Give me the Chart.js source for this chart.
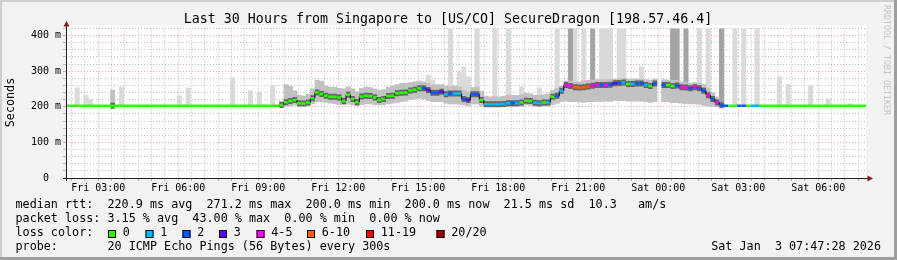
<!DOCTYPE html>
<html>
<head>
<meta charset="utf-8">
<script src="https://cdn.jsdelivr.net/npm/chart.js@4.4.1/dist/chart.umd.min.js"></script>
<style>
html, body { margin: 0; padding: 0; background: #f2f2f2; }
canvas { display: block; }
</style>
</head>
<body>
<canvas id="chart" width="897" height="260"></canvas>
<script>
// 30 hours, one value per 10 minutes, starting Fri 01:47:28
const startHour = 1 + 47 / 60 + 28 / 3600;
const endHour = startHour + 30;
const stepHours = 10 / 60;

// median rtt in ms
const median = [
  203,203,203,203,203,203,203,203,203,203,
  203,203,203,203,203,203,203,203,203,203,
  203,203,203,203,203,203,203,203,203,203,
  203,203,203,203,203,203,203,203,203,203,
  203,203,203,203,203,203,203,203,205,213,
  216,219,210,209,212,224,240,236,231,228,
  228,226,216,234,222,213,229,231,230,226,
  219,222,230,231,238,239,240,246,248,252,
  252,247,239,239,242,235,237,237,237,222,
  219,235,235,219,207,207,207,207,208,210,
  210,210,212,217,216,211,210,212,212,228,
  231,245,261,258,255,254,255,257,259,261,
  261,261,262,266,267,268,264,264,265,265,
  261,258,265,null,261,261,258,260,255,254,
  252,255,252,245,232,222,212,204,203,203,
  203,203,203,203,203,203,203,203,203,203,
  203,203,203,203,203,203,203,203,203,203,
  203,203,203,203,203,203,203,203,203,203
];

// loss class per step (index into lossColors)
const loss = [
  0,0,0,0,0,0,0,0,0,0, 0,0,0,0,0,0,0,0,0,0,
  0,0,0,0,0,0,0,0,0,0, 0,0,0,0,0,0,0,0,0,0,
  0,0,0,0,0,0,0,0,0,0, 0,0,0,0,0,0,0,0,0,0,
  0,0,0,0,0,0,0,0,0,0, 0,0,0,0,0,0,0,0,0,0,
  2,3,2,2,3,1,2,1,1,2,
  3,2,2,0,1,1,1,1,1,1,
  2,1,0,0,0,1,1,0,1,0,
  2,1,4,4,5,5,5,5,4,4,
  2,4,2,3,2,1,0,1,2,2,
  1,0,2,0,2,0,0,2,4,4,
  2,4,2,2,4,2,4,2,2,0,
  0,2,2,0,1,1,0,0,0,0,
  0,0,0,0,0,0,0,0,0,0, 0,0,0,0,0,0,0,0,0,0
];

// smoke: lower and upper edge of the dense ping spread (ms)
const smokeLow = [
  null,null,null,null,null,null,null,null,null,null,
  203,null,null,null,null,null,null,null,null,null,
  null,null,null,null,null,null,null,null,null,null,
  null,null,null,null,null,null,null,null,null,null,
  null,null,null,null,null,null,null,null,202,202,
  203,205,202,202,203,208,214,214,212,210,
  208,206,205,207,205,203,206,208,208,206,
  205,205,208,210,212,214,216,220,222,224,
  222,218,214,214,214,210,208,208,207,205,
  203,208,208,202,200,200,200,200,200,200,
  201,202,202,205,204,202,201,202,202,206,
  210,214,216,215,214,213,213,214,215,215,
  215,216,216,218,218,218,216,216,216,216,
  214,212,214,null,214,214,212,212,210,210,
  208,208,207,204,202,201,200,201,null,null,
  null,null,null,null,null,null,null,null,null,null,
  null,null,null,null,null,null,null,null,null,null,
  null,null,null,null,null,null,null,null,null,null
];
const smokeHigh = [
  null,null,null,null,null,null,null,null,null,null,
  247,null,null,null,null,null,null,null,null,null,
  null,null,null,null,null,null,null,null,null,null,
  null,null,null,null,null,null,null,null,null,null,
  null,null,null,null,null,null,null,null,215,262,
  258,245,232,230,235,250,275,272,258,255,
  255,252,250,256,250,242,252,255,254,250,
  246,248,255,258,262,265,266,268,270,272,
  270,266,262,262,262,258,256,258,255,246,
  242,254,256,244,230,228,228,228,230,232,
  232,232,234,238,236,232,232,234,236,246,
  252,258,272,272,270,270,272,274,275,276,
  276,276,277,278,279,280,278,278,278,278,
  276,274,278,null,276,275,274,274,270,268,
  266,268,266,262,252,240,228,212,null,null,
  null,null,null,null,null,null,null,null,null,null,
  null,null,null,null,null,null,null,null,null,null,
  null,null,null,null,null,null,null,null,null,null
];

// slowest ping of a step, where it stands out (ms)
const pingMax = [
  null,null,253,null,233,220,null,null,null,null,
  null,null,255,null,null,null,null,null,null,null,
  null,null,null,null,null,231,null,253,null,null,
  null,null,null,null,null,null,null,281,null,null,
  null,245,null,242,null,null,260,null,null,null,
  null,null,null,null,null,null,null,null,null,null,
  null,null,null,null,null,null,null,null,null,null,
  null,null,null,null,null,null,null,null,null,null,
  null,289,275,null,null,null,420,null,298,312,
  284,null,420,null,null,null,420,null,null,420,
  null,null,256,null,null,null,253,null,null,null,
  420,null,null,null,420,null,420,null,null,null,
  420,420,420,null,420,420,null,null,null,312,
  null,null,null,null,null,null,null,null,null,null,
  null,null,420,null,420,null,null,null,null,null,
  420,null,420,null,null,420,null,null,null,null,
  284,null,263,null,null,null,null,259,null,null,
  null,222,null,null,null,null,208,null,null,null
];
// steps where several pings were that slow
const pingUpper = [
  null,null,null,null,null,null,null,null,null,null,
  null,null,null,null,null,null,null,null,null,null,
  null,null,null,null,null,null,null,null,null,null,
  null,null,null,null,null,null,null,null,null,null,
  null,null,null,null,null,null,null,null,null,null,
  null,null,null,null,null,null,null,null,null,null,
  null,null,null,null,null,null,null,null,null,null,
  null,null,null,null,null,null,null,null,null,null,
  null,null,null,null,null,null,null,null,null,null,
  null,null,null,null,null,null,null,null,null,null,
  null,null,null,null,null,null,null,null,null,null,
  null,null,null,420,null,null,null,null,420,null,
  null,null,null,null,null,null,null,null,null,null,
  null,null,null,null,null,null,420,420,null,420,
  null,null,null,null,null,null,null,420,null,null,
  null,null,null,null,null,null,null,null,null,null,
  null,null,null,null,null,null,null,null,null,null,
  null,null,null,null,null,null,null,null,null,null
];

const lossColors = ['#26ff00', '#00b8ff', '#0059ff', '#5e00ff', '#ff00ff', '#ff5e00', '#ff0000', '#a10000'];
const lossLabels = ['0', '1', '2', '3', '4-5', '6-10', '11-19', '20/20'];

const xTickHours = [3, 6, 9, 12, 15, 18, 21, 24, 27, 30];
const xTickLabels = ['Fri 03:00', 'Fri 06:00', 'Fri 09:00', 'Fri 12:00', 'Fri 15:00',
                     'Fri 18:00', 'Fri 21:00', 'Sat 00:00', 'Sat 03:00', 'Sat 06:00'];
const yTickValues = [0, 100, 200, 300, 400];
const yTickLabels = ['0  ', '100 m', '200 m', '300 m', '400 m'];

const MONO = '"DejaVu Sans Mono", monospace';
const GRID = 'rgba(143,143,143,0.55)';
const MGRID = 'rgba(222,79,79,0.5)';

const centres = median.map((_, i) => startHour + (i + 0.5) * stepHours);

function floating(lo, hi) {
  return centres.map((t, i) => ({ x: t, y: (lo[i] == null || hi[i] == null) ? null : [lo[i], hi[i]] }));
}
const spikeBase = median.map((m, i) => smokeLow[i] != null ? smokeLow[i] : m);

// each step becomes a flat run: start point and end point
const stepPoints = [];
median.forEach((m, i) => {
  stepPoints.push({ x: startHour + i * stepHours, y: m });
  stepPoints.push({ x: startHour + (i + 1) * stepHours, y: m });
});

const xGrid = [];
for (let h = 2; h <= 31.5; h += 0.5) xGrid.push(h);
const yGrid = [];
for (let v = 0; v <= 420; v += 20) yGrid.push(v);

const barStyle = { type: 'bar', grouped: false, barPercentage: 1, categoryPercentage: 1, borderWidth: 0 };

const decor = {
  id: 'decor',
  beforeDraw(chart) {
    const { ctx, chartArea: a } = chart;
    ctx.save();
    ctx.fillStyle = '#f2f2f2';
    ctx.fillRect(0, 0, 897, 260);
    ctx.fillStyle = '#cfcfcf';
    ctx.fillRect(0, 0, 897, 2);
    ctx.fillRect(0, 0, 2, 260);
    ctx.fillStyle = '#9e9e9e';
    ctx.fillRect(0, 257, 897, 3);
    ctx.fillRect(894, 0, 3, 260);
    ctx.fillStyle = '#ffffff';
    ctx.fillRect(a.left, a.top - 3, a.right - a.left, a.bottom - a.top + 3);
    ctx.restore();
  },
  afterDraw(chart) {
    const { ctx, chartArea: a } = chart;
    ctx.save();
    // axes
    ctx.strokeStyle = '#1f1f1f';
    ctx.lineWidth = 1;
    ctx.beginPath();
    ctx.moveTo(a.left + 0.5, a.bottom + 3);
    ctx.lineTo(a.left + 0.5, 24);
    ctx.moveTo(a.left - 3, a.bottom + 0.5);
    ctx.lineTo(a.right + 2, a.bottom + 0.5);
    ctx.stroke();
    ctx.fillStyle = '#801f1f';
    ctx.beginPath();
    ctx.moveTo(a.left + 0.5, 21);
    ctx.lineTo(a.left + 3.5, 26.5);
    ctx.lineTo(a.left - 2.5, 26.5);
    ctx.closePath();
    ctx.fill();
    ctx.beginPath();
    ctx.moveTo(a.right + 7, a.bottom + 0.5);
    ctx.lineTo(a.right + 1.5, a.bottom - 2.5);
    ctx.lineTo(a.right + 1.5, a.bottom + 3.5);
    ctx.closePath();
    ctx.fill();

    // title
    ctx.fillStyle = '#000';
    ctx.textBaseline = 'middle';
    ctx.textAlign = 'center';
    ctx.font = '13.3px ' + MONO;
    ctx.fillText('Last 30 Hours from Singapore to [US/CO] SecureDragon [198.57.46.4]', 448, 19.5);

    // vertical axis title
    ctx.font = '11.75px ' + MONO;
    ctx.save();
    ctx.translate(10.5, 102.5);
    ctx.rotate(-Math.PI / 2);
    ctx.fillText('Seconds', 0, 0);
    ctx.restore();

    // watermark
    ctx.save();
    ctx.translate(886.5, 5);
    ctx.rotate(Math.PI / 2);
    ctx.textAlign = 'left';
    ctx.fillStyle = '#c4c4c4';
    ctx.font = '8.3px ' + MONO;
    ctx.fillText('RRDTOOL / TOBI OETIKER', 0, 0);
    ctx.restore();

    // legend
    ctx.textAlign = 'left';
    ctx.font = '11.75px ' + MONO;
    ctx.fillText('median rtt:  220.9 ms avg  271.2 ms max  200.0 ms min  200.0 ms now  21.5 ms sd  10.3   am/s', 15.5, 204.5);
    ctx.fillText('packet loss: 3.15 % avg  43.00 % max  0.00 % min  0.00 % now', 15.5, 218.5);
    ctx.fillText('loss color:', 15.5, 232.5);
    ctx.fillText('probe:       20 ICMP Echo Pings (56 Bytes) every 300s', 15.5, 246.5);
    ctx.textAlign = 'right';
    ctx.fillText('Sat Jan  3 07:47:28 2026', 881, 246.5);

    const boxX = [108, 145.5, 182.5, 219, 256.5, 307, 366, 436.5];
    ctx.textAlign = 'left';
    lossLabels.forEach((lab, k) => {
      ctx.fillStyle = lossColors[k];
      ctx.fillRect(boxX[k], 230, 8, 8);
      ctx.strokeStyle = '#000';
      ctx.strokeRect(boxX[k] + 0.5, 230.5, 7, 7);
      ctx.fillStyle = '#000';
      ctx.fillText(lab, boxX[k] + 14.8, 232.5);
    });
    ctx.restore();
  }
};

const gridColor = (major) => (c) => (c.tick && major(c.tick.value)) ? MGRID : GRID;

new Chart(document.getElementById('chart'), {
  data: {
    datasets: [
      {
        type: 'line',
        order: 0,
        data: stepPoints,
        pointRadius: 0,
        borderWidth: 2.5,
        spanGaps: false,
        segment: {
          borderColor: c => c.p0DataIndex % 2 === 0 ? lossColors[loss[c.p0DataIndex >> 1]] : '#1f1f1f',
          borderWidth: c => c.p0DataIndex % 2 === 0 ? 2.5 : 1.2
        }
      },
      {
        type: 'line',
        order: 1,
        data: stepPoints,
        pointRadius: 0,
        borderWidth: 6,
        spanGaps: false,
        segment: {
          borderColor: c => smokeLow[c.p0DataIndex >> 1] != null && c.p0DataIndex % 2 === 0 ? 'rgba(60,60,60,0.7)' : 'rgba(0,0,0,0)'
        }
      },
      Object.assign({ order: 2, data: floating(smokeLow, smokeHigh), backgroundColor: '#c2c2c2' }, barStyle),
      Object.assign({ order: 3, data: floating(spikeBase, pingUpper), backgroundColor: '#a4a4a4' }, barStyle),
      Object.assign({ order: 4, data: floating(spikeBase, pingMax), backgroundColor: '#dadada' }, barStyle)
    ]
  },
  options: {
    responsive: false,
    animation: false,
    devicePixelRatio: 1,
    layout: { padding: { top: 28.4, right: 31, bottom: 62, left: 0 } },
    plugins: { legend: { display: false }, tooltip: { enabled: false }, title: { display: false } },
    scales: {
      x: {
        type: 'linear',
        offset: false,
        min: startHour,
        max: endHour,
        afterBuildTicks: s => { s.ticks = xGrid.map(v => ({ value: v })); },
        afterFit: s => { s.height = 20; },
        ticks: {
          autoSkip: false,
          maxRotation: 0,
          padding: 1.5,
          color: '#000',
          font: { family: MONO, size: 10 },
          callback: v => { const k = xTickHours.indexOf(v); return k < 0 ? '' : xTickLabels[k]; }
        },
        grid: {
          offset: false,
          color: gridColor(v => Number.isInteger(v)),
          tickColor: gridColor(v => Number.isInteger(v)),
          tickLength: 3
        },
        border: { display: false, dash: [1, 2] }
      },
      y: {
        min: 0,
        max: 420,
        afterBuildTicks: s => { s.ticks = yGrid.map(v => ({ value: v })); },
        afterFit: s => { s.width = 66; },
        ticks: {
          autoSkip: false,
          padding: 2,
          color: '#000',
          font: { family: MONO, size: 10 },
          callback: v => { const k = yTickValues.indexOf(v); return k < 0 ? '' : yTickLabels[k]; }
        },
        grid: {
          color: gridColor(v => v % 100 === 0),
          tickColor: gridColor(v => v % 100 === 0),
          tickLength: 3
        },
        border: { display: false, dash: [1, 2] }
      }
    }
  },
  plugins: [decor]
});
</script>
</body>
</html>
